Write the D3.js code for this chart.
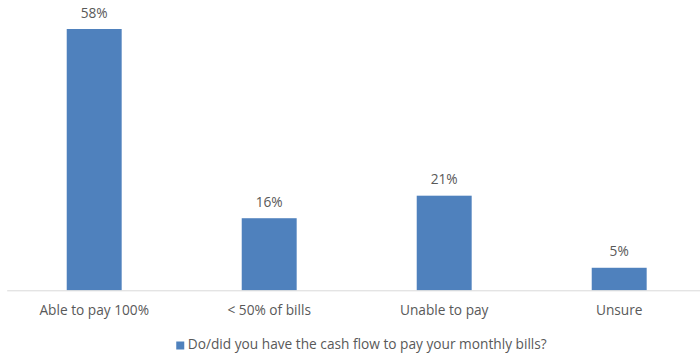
<!DOCTYPE html>
<html>
<head>
<meta charset="utf-8">
<script src="https://cdn.jsdelivr.net/npm/d3@7"></script>
<style>
  html, body { margin: 0; padding: 0; background: #fff; }
  svg text { font-family: "Open Sans", sans-serif; fill: #595959; }
</style>
</head>
<body>
<svg id="chart" width="700" height="358"></svg>
<script>
// Survey answers and their shares (percent)
const categories = ["Able to pay 100%", "< 50% of bills", "Unable to pay", "Unsure"];
const values = [58, 16, 21, 5];
const seriesName = "Do/did you have the cash flow to pay your monthly bills?";

const svg = d3.select("#chart");
const W = 700, H = 358;
const plot = { left: 6.7, right: 706.7, top: 29, bottom: 290.3 };
const fontSize = "13.7px";

const x = d3.scaleBand()
  .domain(categories)
  .range([plot.left, plot.right])
  .paddingInner(0.686)
  .paddingOuter(0.343);

const y = d3.scaleLinear()
  .domain([0, 58])
  .range([plot.bottom, plot.top]);

const barColor = "#4F81BD";
const rows = categories.map((c, i) => ({ c, v: values[i] }));

// Bars
svg.append("g").selectAll("rect")
  .data(rows)
  .join("rect")
  .attr("x", d => x(d.c))
  .attr("y", d => y(d.v))
  .attr("width", x.bandwidth())
  .attr("height", d => y(0) - y(d.v))
  .attr("fill", barColor);

// Value labels above bars
svg.append("g").selectAll("text")
  .data(rows)
  .join("text")
  .attr("x", d => x(d.c) + x.bandwidth() / 2)
  .attr("y", d => y(d.v) - 11.5)
  .attr("text-anchor", "middle")
  .style("font-size", fontSize)
  .text(d => d.v + "%");

// Category axis
const xAxis = d3.axisBottom(x).tickSize(0).tickPadding(14.5);
const gx = svg.append("g")
  .attr("transform", `translate(0,${plot.bottom})`)
  .call(xAxis);
gx.select(".domain").attr("stroke", "#D9D9D9").attr("stroke-width", 1);
gx.selectAll(".tick text")
  .style("font-size", fontSize)
  .style("font-family", "'Open Sans', sans-serif")
  .attr("fill", "#595959");

// Legend, centred below the axis
const legend = svg.append("g");
const legendText = legend.append("text")
  .attr("y", 349)
  .style("font-size", fontSize)
  .text(seriesName);
const tw = legendText.node().getComputedTextLength();
const sw = 8;
const gap = 3.5;
const total = sw + gap + tw;
const lx = 361.5 - total / 2;
legend.append("rect")
  .attr("x", lx)
  .attr("y", 341.5)
  .attr("width", sw)
  .attr("height", sw)
  .attr("fill", barColor);
legendText.attr("x", lx + sw + gap);
</script>
</body>
</html>
